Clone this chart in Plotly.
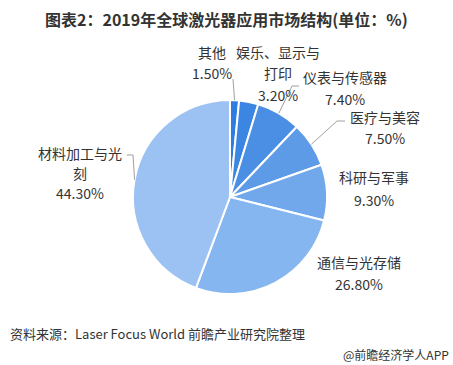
import numpy as np
import plotly.graph_objects as go

W, H = 453, 365

categories = ["其他", "娱乐、显示与打印", "仪表与传感器", "医疗与美容", "科研与军事", "通信与光存储", "材料加工与光刻"]
values = [1.50, 3.20, 7.40, 7.50, 9.30, 26.80, 44.30]
label_lines = [["其他", "1.50%"], ["娱乐、显示与", "打印", "3.20%"], ["仪表与传感器", "7.40%"],
               ["医疗与美容", "7.50%"], ["科研与军事", "9.30%"], ["通信与光存储", "26.80%"],
               ["材料加工与光", "刻", "44.30%"]]
colors = ["#2f7de1", "#3c86e3", "#4b8fe4", "#5e9be7", "#70a8eb", "#86b6ef", "#9bc2f3"]

# layout (pixels)
cx, cy, R = 230, 197, 97
label_x = [212, 278, 345, 385, 374, 359, 80]
label_y = [[52, 73], [52, 73, 95], [77, 99], [117, 138], [177, 200], [262, 284], [153, 173, 193]]
leader = {0: [(233, 79)], 2: [(292, 86), (299, 86)], 3: [(337, 121), (345, 121)], 6: [(133, 155), (127, 155)]}

def px(x):
    return x / W

def py(y):
    return 1 - y / H

fig = go.Figure(go.Pie(
    labels=categories, values=values, sort=False, direction="clockwise", rotation=0,
    marker=dict(colors=colors, line=dict(color="white", width=2)),
    textinfo="none", hoverinfo="label+percent",
    domain=dict(x=[px(cx - R), px(cx + R)], y=[py(cy + R), py(cy - R)]),
    showlegend=False,
))

annotations = []
shapes = []
total = sum(values)
cum = 0
for i, v in enumerate(values):
    mid = (cum + v / 2) / total * 2 * np.pi
    cum += v
    for t, ly in zip(label_lines[i], label_y[i]):
        annotations.append(dict(x=px(label_x[i]), y=py(ly), xref="paper", yref="paper",
                                text=t, showarrow=False, xanchor="center", yanchor="middle",
                                font=dict(size=14, color="#333333", family="Noto Sans CJK SC")))
    if i in leader:
        sx, sy = cx + R * np.sin(mid), cy - R * np.cos(mid)
        pts = [(sx, sy)] + leader[i]
        path = "M " + " L ".join(f"{px(a):.5f},{py(b):.5f}" for a, b in pts)
        shapes.append(dict(type="path", path=path, xref="paper", yref="paper",
                           line=dict(color="#a0a0a0", width=1)))

annotations.append(dict(x=px(226), y=py(19), xref="paper", yref="paper",
                        text="<b>图表2：2019年全球激光器应用市场结构(单位：%)</b>", showarrow=False,
                        xanchor="center", yanchor="middle",
                        font=dict(size=16, color="#333333", family="Noto Sans CJK SC")))
annotations.append(dict(x=px(8), y=py(333), xref="paper", yref="paper",
                        text="资料来源：Laser Focus World 前瞻产业研究院整理", showarrow=False,
                        xanchor="left", yanchor="middle",
                        font=dict(size=13, color="#333333", family="Noto Sans CJK SC")))
annotations.append(dict(x=px(451), y=py(354), xref="paper", yref="paper",
                        text="@前瞻经济学人APP", showarrow=False,
                        xanchor="right", yanchor="middle",
                        font=dict(size=12, color="#333333", family="Noto Sans CJK SC")))

fig.update_layout(width=W, height=H, margin=dict(l=0, r=0, t=0, b=0),
                  paper_bgcolor="white", plot_bgcolor="white",
                  annotations=annotations, shapes=shapes)
fig.write_html("out.html", config={"displayModeBar": False},
               post_script="document.body.style.margin='0';document.body.style.overflow='hidden';")
